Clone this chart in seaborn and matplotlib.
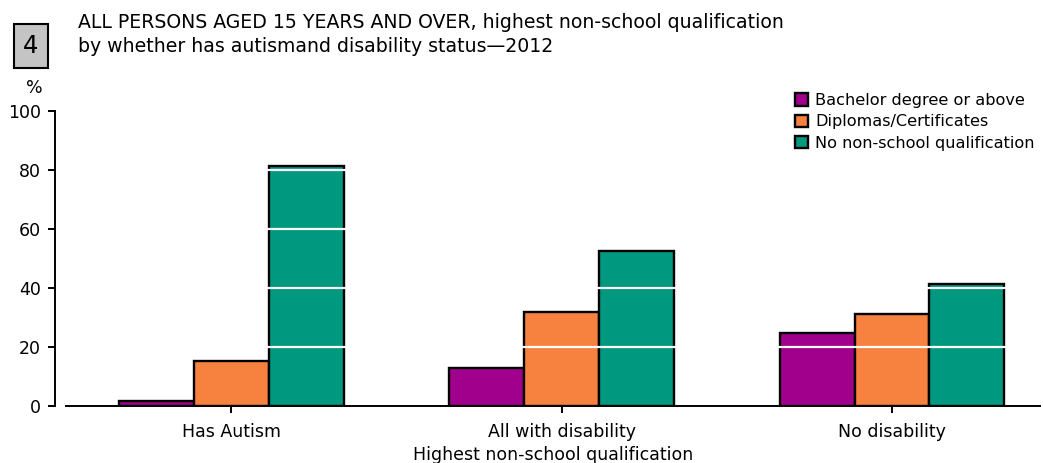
import matplotlib
matplotlib.use("Agg")
import matplotlib.pyplot as plt
import seaborn as sns
import pandas as pd

# Groups along the x axis
groups = ["Has Autism", "All with disability", "No disability"]

# Percent of persons in each qualification level, per group
bachelor = [1.8, 12.8, 24.8]
diplomas = [15.4, 31.8, 31.1]
no_qual = [81.5, 52.6, 41.4]

series_names = ["Bachelor degree or above", "Diplomas/Certificates", "No non-school qualification"]
series_colors = ["#A0008C", "#F7823F", "#00987F"]
y_ticks = [0, 20, 40, 60, 80, 100]

rows = []
for name, vals in zip(series_names, [bachelor, diplomas, no_qual]):
    for g, v in zip(groups, vals):
        rows.append({"group": g, "series": name, "value": v})
df = pd.DataFrame(rows)

sns.set_style("white")
plt.rcParams["font.family"] = ["DejaVu Sans"]
plt.rcParams["text.color"] = "black"
plt.rcParams["axes.labelcolor"] = "black"

W, H = 1043, 463
fig = plt.figure(figsize=(W / 100, H / 100), dpi=100)
ax = fig.add_axes([66 / W, 1 - 406 / H, (1040 - 66) / W, (406 - 111) / H])

sns.barplot(data=df, x="group", y="value", hue="series", order=groups,
            hue_order=series_names, palette=series_colors, saturation=1,
            width=0.68, edgecolor="black", linewidth=1.7, ax=ax, legend=True)

# white gridlines drawn over the bars
for t in y_ticks[1:-1]:
    ax.axhline(t, color="white", lw=1.6, zorder=5)

ax.set_xlim(-0.5, 2.448)
ax.set_ylim(0, 100)
ax.set_yticks(y_ticks)
ax.set_yticklabels([str(t) for t in y_ticks])

for s in ["top", "right"]:
    ax.spines[s].set_visible(False)
ax.spines["left"].set_position(("outward", 8))
ax.spines["left"].set_color("black")
ax.spines["bottom"].set_color("black")
ax.spines["left"].set_linewidth(1.4)
ax.spines["bottom"].set_linewidth(1.4)

ax.tick_params(axis="both", direction="out", length=5, width=1.4, color="black",
               labelsize=12.5, labelcolor="black", left=True, bottom=True)
ax.tick_params(axis="x", pad=7)
ax.tick_params(axis="y", pad=5)
ax.set_ylabel("")
ax.set_xlabel("Highest non-school qualification", fontsize=12.5, labelpad=4)

fig.text(34 / W, 1 - 88 / H, "%", fontsize=12.5, ha="center", va="center")

# legend in the upper right corner
handles, labels = ax.get_legend_handles_labels()
ax.get_legend().remove()
fig.legend(handles, labels, loc="upper left", bbox_to_anchor=(795 / W, 1 - 93 / H),
           frameon=False, fontsize=11.6, handlelength=0.8, handleheight=0.8,
           handletextpad=0.45, labelspacing=0.4, borderaxespad=0, borderpad=0)

# chart number box and title
fig.text(31 / W, 1 - 46 / H, "4", fontsize=17.5, ha="center", va="center",
         bbox=dict(boxstyle="square,pad=0.4", facecolor="#C4C4C4", edgecolor="black", lw=1.5))
fig.text(78 / W, 1 - 22 / H, "ALL PERSONS AGED 15 YEARS AND OVER, highest non-school qualification",
         fontsize=13.6, ha="left", va="center")
fig.text(78 / W, 1 - 47 / H, "by whether has autismand disability status\u20142012",
         fontsize=13.6, ha="left", va="center")

fig.savefig("out.png", dpi=100)
